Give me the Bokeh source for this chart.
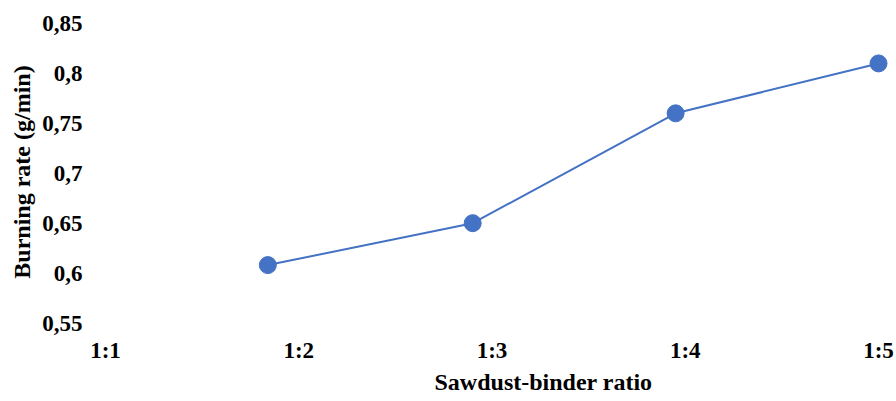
from bokeh.plotting import figure
from bokeh.models import FixedTicker, CustomJSTickFormatter, Range1d, ColumnDataSource, Title
from bokeh.embed import file_html
from bokeh.resources import INLINE

# ---- data ----
ratio_labels = ["1:1", "1:2", "1:3", "1:4", "1:5"]
point_x = [1.84, 2.9, 3.95, 5.0]          # where the measured points sit on the ratio axis
burning_rate = [0.608, 0.65, 0.76, 0.81]  # g/min
y_ticks = [0.55, 0.60, 0.65, 0.70, 0.75, 0.80, 0.85]
x_title = "Sawdust-binder ratio"
y_title = "Burning rate (g/min)"

BLUE = "#4472C4"
FONT = "'Liberation Serif', 'Times New Roman', Times, serif"

p = figure(width=896, height=401, output_backend="svg", toolbar_location=None,
           x_range=Range1d(0.912, 5.093), y_range=Range1d(0.5425, 0.860),
           min_border_left=88, min_border_right=0, min_border_top=13, min_border_bottom=71)

src = ColumnDataSource(dict(x=point_x, y=burning_rate))
p.line("x", "y", source=src, line_color=BLUE, line_width=2)
p.scatter("x", "y", source=src, size=17, fill_color=BLUE, line_color=BLUE)

p.outline_line_color = None
p.xgrid.visible = False
p.ygrid.visible = False

tick_pos = list(range(1, len(ratio_labels) + 1))
p.xaxis.ticker = FixedTicker(ticks=tick_pos)
p.xaxis.major_label_overrides = {t: lab for t, lab in zip(tick_pos, ratio_labels)}
p.yaxis.ticker = FixedTicker(ticks=y_ticks)
p.yaxis.formatter = CustomJSTickFormatter(code="""
    let s = tick.toFixed(2).replace(/0+$/, '').replace(/\\.$/, '');
    return s.replace('.', ',');
""")

for ax in (p.xaxis[0], p.yaxis[0]):
    ax.axis_line_color = None
    ax.major_tick_line_color = None
    ax.minor_tick_line_color = None
    ax.major_tick_in = 0
    ax.major_tick_out = 0
    ax.major_label_text_font = FONT
    ax.major_label_text_font_style = "bold"
    ax.major_label_text_font_size = "23px"
    ax.major_label_text_color = "black"
    ax.axis_label_text_font = FONT
    ax.axis_label_text_font_style = "bold"
    ax.axis_label_text_font_size = "24px"
    ax.axis_label_text_color = "black"

p.yaxis.axis_label = y_title
p.xaxis.major_label_standoff = 7
p.yaxis.major_label_standoff = 6
p.yaxis.axis_label_standoff = 4

# x-axis title sits right of the frame centre in the original
p.add_layout(Title(text=x_title, align="left", offset=346, standoff=2,
                   text_font=FONT, text_font_style="bold", text_font_size="24px",
                   text_color="black"), "below")

open("out.html", "w").write(file_html(p, INLINE))
